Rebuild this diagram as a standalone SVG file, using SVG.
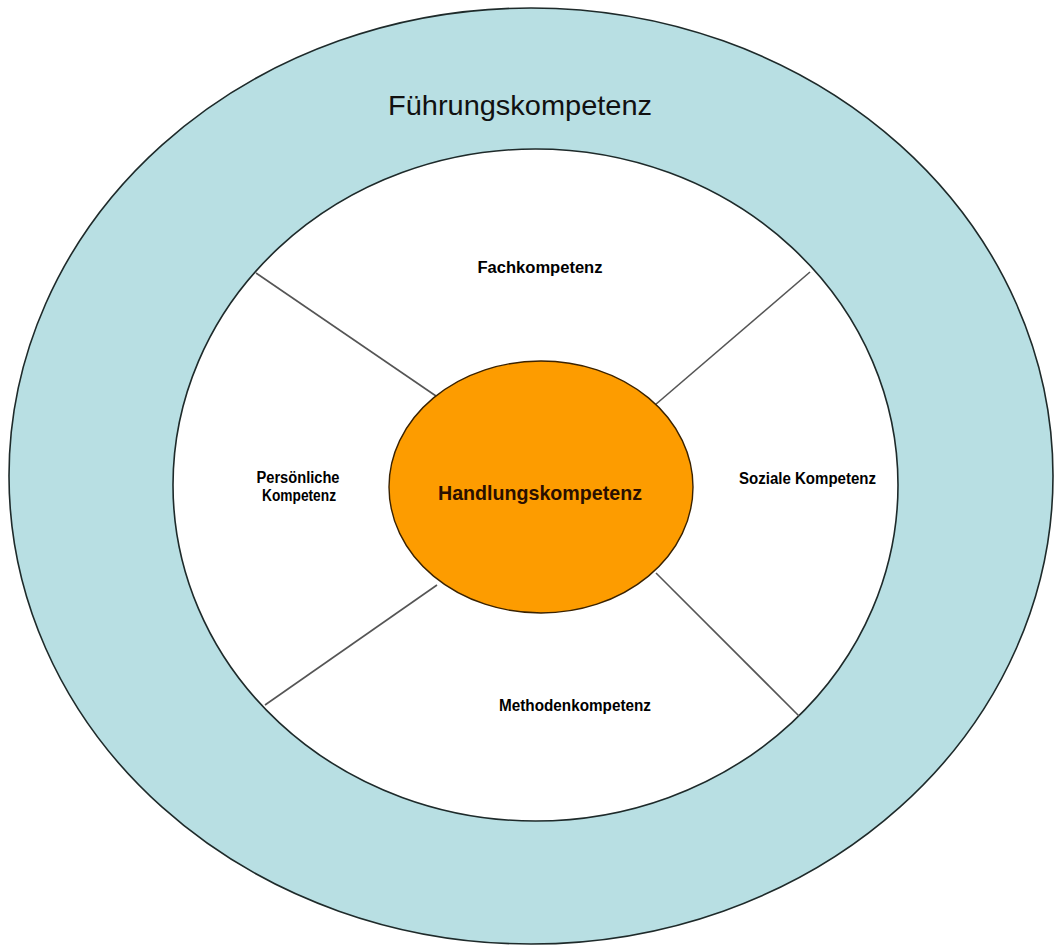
<svg xmlns="http://www.w3.org/2000/svg" width="1054" height="945" viewBox="0 0 1054 945">
<style>
.ring{fill:#b8dfe3;stroke:#1e2a2a;stroke-width:1.6}
.inner{fill:#ffffff;stroke:#1e2a2a;stroke-width:1.6}
.core{fill:#fd9c00;stroke:#3a2200;stroke-width:1.4}
.conn{stroke:#555555;stroke-width:1.6;fill:none}
.lbl{font-family:"Liberation Sans Narrow","Liberation Sans",Arial,sans-serif;font-weight:bold;font-size:16px;fill:#000;text-anchor:middle}
.big{font-family:"Liberation Sans",Arial,sans-serif;font-size:28px;fill:#111;text-anchor:middle}
.core-t{font-family:"Liberation Sans Narrow","Liberation Sans",Arial,sans-serif;font-weight:bold;font-size:21px;fill:#2a0f00;text-anchor:middle}
</style>
<rect x="0" y="0" width="1054" height="945" fill="#ffffff"/>
<g id="fuehrungskompetenz">
<ellipse class="ring" cx="531" cy="476" rx="522" ry="468"/>
<text class="big" x="520" y="115" textLength="264" lengthAdjust="spacingAndGlyphs">Führungskompetenz</text>
</g>
<g id="inner-area">
<ellipse class="inner" cx="535.5" cy="485" rx="362.5" ry="336"/>
</g>
<g id="connectors">
<line class="conn" x1="256" y1="273" x2="436" y2="396"/>
<line class="conn" x1="810" y1="272" x2="655" y2="405"/>
<line class="conn" x1="265" y1="705" x2="437" y2="585"/>
<line class="conn" x1="799" y1="716" x2="656" y2="573"/>
</g>
<g id="fachkompetenz">
<text class="lbl" x="540" y="273" textLength="125" lengthAdjust="spacingAndGlyphs">Fachkompetenz</text>
</g>
<g id="persoenliche-kompetenz">
<text class="lbl" x="298" y="483" textLength="83" lengthAdjust="spacingAndGlyphs">Persönliche</text>
<text class="lbl" x="299" y="501" textLength="74" lengthAdjust="spacingAndGlyphs">Kompetenz</text>
</g>
<g id="soziale-kompetenz">
<text class="lbl" x="807.5" y="484" textLength="137" lengthAdjust="spacingAndGlyphs">Soziale Kompetenz</text>
</g>
<g id="methodenkompetenz">
<text class="lbl" x="575" y="711" textLength="152" lengthAdjust="spacingAndGlyphs">Methodenkompetenz</text>
</g>
<g id="handlungskompetenz">
<ellipse class="core" cx="541" cy="487" rx="152" ry="126"/>
<text class="core-t" x="540" y="500" textLength="204" lengthAdjust="spacingAndGlyphs">Handlungskompetenz</text>
</g>
</svg>
